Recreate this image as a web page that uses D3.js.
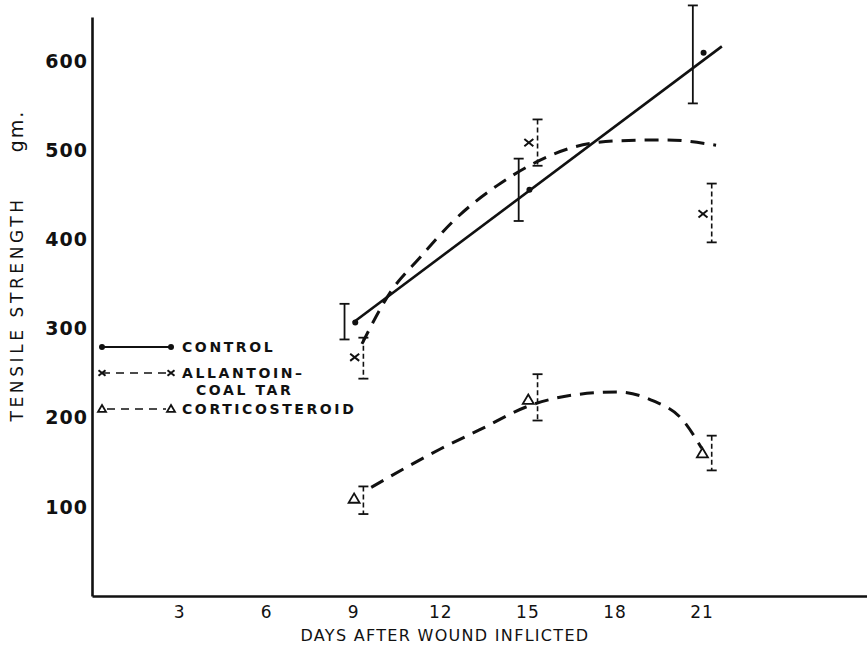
<!DOCTYPE html>
<html>
<head>
<meta charset="utf-8">
<script src="https://cdn.jsdelivr.net/npm/d3@7"></script>
<style>
  body { margin: 0; background: #fff; }
  svg { display: block; }
  text { font-family: "DejaVu Sans", sans-serif; fill: #111; }
</style>
</head>
<body>
<div id="chart"></div>
<script>
// giorni di osservazione
const days = [9, 15, 21];

// controllo
const controlMean = [307, 456, 610];
const controlHi = [328, 491, 663];
const controlLo = [288, 421, 553];
const controlFit = [[9, 307], [21.7, 617]];

// allantoina - catrame di carbone
const allantoinMean = [268, 509, 429];
const allantoinHi = [290, 535, 463];
const allantoinLo = [244, 483, 397];
const allantoinCurve = [[9.3, 283], [10.3, 342], [11.3, 380], [12.45, 421], [13.97, 461],
  [15.3, 487], [16.4, 502], [18.1, 511], [19.8, 512], [21.5, 506]];

// corticosteroide
const corticoMean = [109, 220, 160];
const corticoHi = [123, 249, 180];
const corticoLo = [92, 197, 141];
const corticoCurve = [[9.62, 122], [12.0, 165], [13.38, 187], [15.1, 214], [16.66, 226],
  [18.1, 229], [19.34, 219], [20.34, 198], [21.0, 166]];

const xTicks = [3, 6, 9, 12, 15, 18, 21];
const yTicks = [100, 200, 300, 400, 500, 600];

const width = 867, height = 653;

const svg = d3.select("#chart").append("svg")
  .attr("width", width)
  .attr("height", height);

const x = d3.scaleLinear().domain([0, 26.7]).range([92, 867]);
const y = d3.scaleLinear().domain([0, 650]).range([596, 17]);

// assi
const yAxis = svg.append("g")
  .attr("transform", `translate(${x(0)},0)`)
  .call(d3.axisLeft(y).tickValues(yTicks).tickSize(0).tickPadding(4));
yAxis.select(".domain").attr("stroke", "#111").attr("stroke-width", 2.6);
yAxis.selectAll("text")
  .style("font-size", "19px")
  .style("font-weight", "bold")
  .style("letter-spacing", "1px")
  .attr("fill", "#111");

const xAxis = svg.append("g")
  .attr("transform", `translate(0,${y(0)})`)
  .call(d3.axisBottom(x).tickValues(xTicks).tickSize(0).tickPadding(10));
xAxis.select(".domain").attr("stroke", "#111").attr("stroke-width", 2.6);
xAxis.selectAll("text")
  .style("font-size", "17px")
  .style("letter-spacing", "1px")
  .attr("fill", "#111");

// titoli assi
svg.append("text")
  .attr("transform", "translate(23,309) rotate(-90)")
  .attr("text-anchor", "middle")
  .style("font-size", "17px")
  .style("letter-spacing", "3.6px")
  .text("TENSILE STRENGTH");

svg.append("text")
  .attr("transform", "translate(23,131) rotate(-90)")
  .attr("text-anchor", "middle")
  .style("font-size", "19px")
  .style("letter-spacing", "2px")
  .text("gm.");

svg.append("text")
  .attr("x", 445).attr("y", 641)
  .attr("text-anchor", "middle")
  .style("font-size", "16px")
  .style("letter-spacing", "1.3px")
  .text("DAYS AFTER WOUND INFLICTED");

const line = d3.line().x(d => x(d[0])).y(d => y(d[1]));
const smooth = d3.line().x(d => x(d[0])).y(d => y(d[1])).curve(d3.curveMonotoneX);

// linee
svg.append("path").datum(controlFit)
  .attr("d", line).attr("fill", "none")
  .attr("stroke", "#111").attr("stroke-width", 2.6);

svg.append("path").datum(allantoinCurve)
  .attr("d", smooth).attr("fill", "none")
  .attr("stroke", "#111").attr("stroke-width", 3)
  .attr("stroke-dasharray", "14 9");

svg.append("path").datum(corticoCurve)
  .attr("d", smooth).attr("fill", "none")
  .attr("stroke", "#111").attr("stroke-width", 3)
  .attr("stroke-dasharray", "14 9");

// barre di errore
function errorBars(hi, lo, shift, dashed) {
  const g = svg.append("g");
  days.forEach((d, i) => {
    const cx = x(d + shift);
    g.append("line")
      .attr("x1", cx).attr("x2", cx)
      .attr("y1", y(hi[i])).attr("y2", y(lo[i]))
      .attr("stroke", "#111").attr("stroke-width", dashed ? 1.6 : 1.8)
      .attr("stroke-dasharray", dashed ? "5 3" : null);
    [hi[i], lo[i]].forEach(v => {
      g.append("line")
        .attr("x1", cx - 5).attr("x2", cx + 5)
        .attr("y1", y(v)).attr("y2", y(v))
        .attr("stroke", "#111").attr("stroke-width", 1.8);
    });
  });
}
errorBars(controlHi, controlLo, -0.3, false);
errorBars(allantoinHi, allantoinLo, 0.35, true);
errorBars(corticoHi, corticoLo, 0.35, true);

// simboli
function dot(g, px, py) {
  g.append("circle").attr("cx", px).attr("cy", py).attr("r", 3).attr("fill", "#111");
}
function cross(g, px, py, s) {
  g.append("path")
    .attr("d", `M${px - s},${py - s * 0.8}L${px + s},${py + s * 0.8}M${px - s},${py + s * 0.8}L${px + s},${py - s * 0.8}`)
    .attr("stroke", "#111").attr("stroke-width", 2).attr("fill", "none");
}
function tri(g, px, py, s) {
  g.append("path")
    .attr("d", `M${px},${py - s}L${px + s},${py + s * 0.7}L${px - s},${py + s * 0.7}Z`)
    .attr("stroke", "#111").attr("stroke-width", 1.8).attr("fill", "#fff");
}

const marks = svg.append("g");
days.forEach((d, i) => {
  dot(marks, x(d + 0.07), y(controlMean[i]));
  cross(marks, x(d + 0.05), y(allantoinMean[i]), 4.5);
  tri(marks, x(d + 0.03), y(corticoMean[i]), 5.5);
});

// legenda
const legend = svg.append("g");
const lx1 = 102, lx2 = 171, tx = 182;
const legendFont = t => t.style("font-size", "14px").style("font-weight", "bold").style("letter-spacing", "2.6px");

legend.append("line").attr("x1", lx1).attr("x2", lx2).attr("y1", 347).attr("y2", 347)
  .attr("stroke", "#111").attr("stroke-width", 1.8);
dot(legend, lx1, 347); dot(legend, lx2, 347);
legend.append("text").attr("x", tx).attr("y", 352).call(legendFont).text("CONTROL");

legend.append("line").attr("x1", lx1).attr("x2", lx2).attr("y1", 373).attr("y2", 373)
  .attr("stroke", "#111").attr("stroke-width", 1.5).attr("stroke-dasharray", "8 6");
cross(legend, lx1, 373, 3.5); cross(legend, lx2, 373, 3.5);
legend.append("text").attr("x", tx).attr("y", 378).call(legendFont).text("ALLANTOIN–");
legend.append("text").attr("x", 196).attr("y", 395).call(legendFont).text("COAL TAR");

legend.append("line").attr("x1", lx1 + 5).attr("x2", lx2 - 5).attr("y1", 409).attr("y2", 409)
  .attr("stroke", "#111").attr("stroke-width", 1.5).attr("stroke-dasharray", "8 6");
tri(legend, lx1, 409, 4); tri(legend, lx2, 409, 4);
legend.append("text").attr("x", tx).attr("y", 414).call(legendFont).text("CORTICOSTEROID");
</script>
</body>
</html>
